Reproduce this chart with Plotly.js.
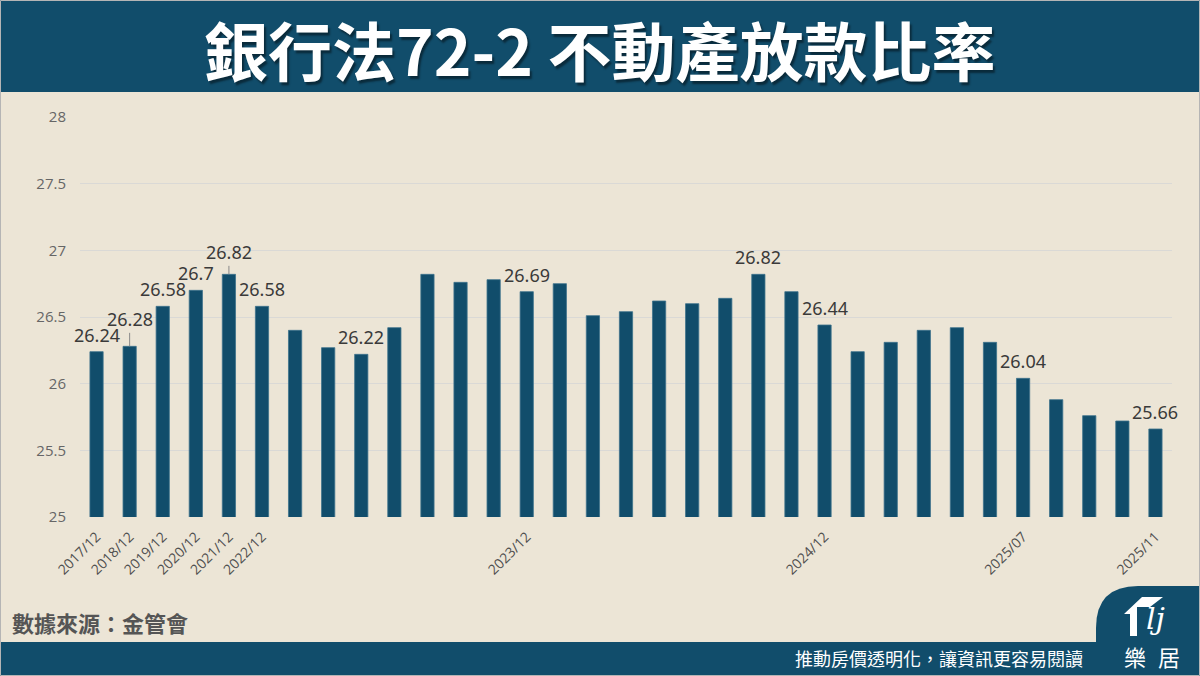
<!DOCTYPE html>
<html>
<head>
<meta charset="utf-8">
<script src="https://cdn.plot.ly/plotly-3.0.1.min.js"></script>
<style>
html,body{margin:0;padding:0;background:#ece5d6;}
#chart{width:1200px;height:676px;}
</style>
</head>
<body>
<div id="chart"></div>
<script>
// ---- Data ----
const categories = ['2017/12','2018/12','2019/12','2020/12','2021/12','2022/12',
  '2023/05','2023/06','2023/07','2023/08','2023/09','2023/10','2023/11','2023/12',
  '2024/04','2024/05','2024/06','2024/07','2024/08','2024/09','2024/10','2024/11','2024/12',
  '2025/02','2025/03','2025/04','2025/05','2025/06','2025/07','2025/08','2025/09','2025/10','2025/11'];
const ratios = [26.24, 26.28, 26.58, 26.7, 26.82, 26.58,
  26.40, 26.27, 26.22, 26.42, 26.82, 26.76, 26.78, 26.69,
  26.75, 26.51, 26.54, 26.62, 26.60, 26.64, 26.82, 26.69, 26.44,
  26.24, 26.31, 26.40, 26.42, 26.31, 26.04, 25.88, 25.76, 25.72, 25.66];
const tickCategories = ['2017/12','2018/12','2019/12','2020/12','2021/12','2022/12','2023/12','2024/12','2025/07','2025/11'];
const labeledCategories = ['2017/12','2018/12','2019/12','2020/12','2021/12','2022/12','2023/07','2023/12','2024/10','2024/12','2025/07','2025/11'];
const titleText = '銀行法72-2 不動產放款比率';
const sourceText = '數據來源：金管會';
const sloganText = '推動房價透明化，讓資訊更容易閱讀';

// ---- Layout helpers ----
const W = 1200, H = 676;
const M = {l: 80, r: 28, t: 117, b: 159};
const PW = W - M.l - M.r, PH = H - M.t - M.b;
const px = x => (x - M.l) / PW;
const py = y => (H - M.b - y) / PH;

const leaderOffsets = {'2018/12': 27, '2021/12': 22};

const BAR = '#114d6b';
const CJK = '"Noto Sans CJK TC", "Noto Sans", sans-serif';

const annotations = [];
labeledCategories.forEach(c => {
  const v = ratios[categories.indexOf(c)];
  const a = {
    x: c, y: v, xref: 'x', yref: 'y', text: String(v),
    font: {family: '"Noto Sans", "Open Sans", sans-serif', size: 18, color: '#3a3a3a'}
  };
  if (leaderOffsets[c]) {
    Object.assign(a, {showarrow: true, ax: 0, ay: -leaderOffsets[c], arrowhead: 0,
      arrowwidth: 1, arrowcolor: '#8a8a8a', standoff: 0});
  } else {
    Object.assign(a, {showarrow: false, yanchor: 'bottom', yshift: 3});
  }
  annotations.push(a);
});

// title
annotations.push({xref: 'paper', yref: 'paper', x: px(600), y: py(48),
  text: titleText, showarrow: false, xanchor: 'center', yanchor: 'middle',
  font: {family: CJK, size: 64, color: '#ffffff', weight: 'bold',
    shadow: '2px 3px 2px rgba(0,0,0,0.45)'}});
// source
annotations.push({xref: 'paper', yref: 'paper', x: px(10), y: py(622),
  text: sourceText, showarrow: false, xanchor: 'left', yanchor: 'middle',
  font: {family: CJK, size: 22, color: '#555555', weight: 'bold'}});
// slogan
annotations.push({xref: 'paper', yref: 'paper', x: px(1085), y: py(658),
  text: sloganText, showarrow: false, xanchor: 'right', yanchor: 'middle',
  font: {family: CJK, size: 18, color: '#ffffff'}});
// logo text
annotations.push({xref: 'paper', yref: 'paper', x: px(1135), y: py(656),
  text: '樂', showarrow: false, xanchor: 'center', yanchor: 'middle',
  font: {family: CJK, size: 22, color: '#ffffff'}});
annotations.push({xref: 'paper', yref: 'paper', x: px(1169), y: py(656),
  text: '居', showarrow: false, xanchor: 'center', yanchor: 'middle',
  font: {family: CJK, size: 22, color: '#ffffff'}});
annotations.push({xref: 'paper', yref: 'paper', x: px(1155), y: py(618),
  text: '<i>lj</i>', showarrow: false, xanchor: 'center', yanchor: 'middle',
  font: {family: '"DejaVu Serif", serif', size: 30, color: '#ffffff'}});

function pathPx(pts) {
  return 'M ' + pts.map(p => px(p[0]) + ',' + py(p[1])).join(' L ') + ' Z';
}
// tab with rounded top-left corner
const tabPath = (() => {
  const r = 42, x0 = 1096, y0 = 586;
  return 'M ' + px(x0) + ',' + py(H + 2) +
    ' L ' + px(x0) + ',' + py(y0 + r) +
    ' Q ' + px(x0) + ',' + py(y0) + ' ' + px(x0 + r) + ',' + py(y0) +
    ' L ' + px(W + 2) + ',' + py(y0) +
    ' L ' + px(W + 2) + ',' + py(H + 2) + ' Z';
})();

const shapes = [
  {type: 'rect', xref: 'paper', yref: 'paper', x0: px(-2), x1: px(W + 2), y0: py(92), y1: py(-2),
    fillcolor: BAR, line: {width: 0}, layer: 'below'},
  {type: 'rect', xref: 'paper', yref: 'paper', x0: px(-2), x1: px(W + 2), y0: py(H + 2), y1: py(642),
    fillcolor: BAR, line: {width: 0}, layer: 'above'},
  {type: 'path', xref: 'paper', yref: 'paper', path: tabPath, fillcolor: BAR, line: {width: 0}, layer: 'above'},
  {type: 'path', xref: 'paper', yref: 'paper',
    path: pathPx([[1124,614],[1142,597],[1163,597],[1150,607],[1137,607],[1137,636],[1130,636],[1130,614]]),
    fillcolor: '#ffffff', line: {width: 0}, layer: 'above'},
  {type: 'rect', xref: 'paper', yref: 'paper', x0: px(0.5), x1: px(W - 0.5), y0: py(H - 0.5), y1: py(0.5),
    fillcolor: 'rgba(0,0,0,0)', line: {width: 1, color: '#b5b5b5'}, layer: 'above'}
];

const trace = {
  type: 'bar', x: categories, y: ratios,
  marker: {color: BAR, line: {color: '#3d728c', width: 0.8}},
  hoverinfo: 'x+y'
};

const layout = {
  width: W, height: H,
  margin: M,
  paper_bgcolor: '#ece5d6', plot_bgcolor: '#ece5d6',
  showlegend: false,
  bargap: 0.6,
  xaxis: {
    type: 'category', range: [-0.5, categories.length - 0.5],
    tickmode: 'array', tickvals: tickCategories, ticktext: tickCategories,
    tickangle: -45, ticks: '', showgrid: false, showline: false, zeroline: false,
    ticklabelstandoff: 8,
    tickfont: {family: '"Open Sans", "Noto Sans", sans-serif', size: 14, color: '#4f4f4f'}
  },
  yaxis: {
    range: [25, 28], dtick: 0.5, tick0: 25,
    showgrid: true, gridcolor: '#dad9d6', gridwidth: 1,
    zeroline: false, showline: false, ticks: '',
    ticklabelstandoff: 13,
    tickfont: {family: '"Open Sans", "Noto Sans", sans-serif', size: 15, color: '#666666'}
  },
  annotations: annotations,
  shapes: shapes
};

Plotly.newPlot('chart', [trace], layout, {staticPlot: true});
</script>
</body>
</html>
